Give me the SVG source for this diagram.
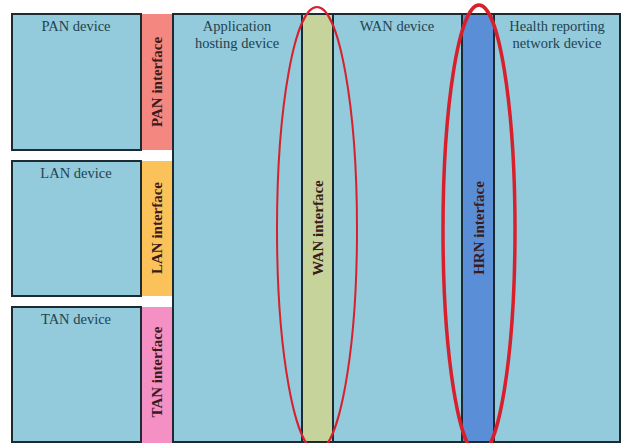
<svg xmlns="http://www.w3.org/2000/svg" width="625" height="443" viewBox="0 0 625 443">
  <style>
    .dev { fill: #93cadc; stroke: #1c2b31; stroke-width: 2; }
    .iface { stroke: none; }
    .bar { stroke: #1c2b31; stroke-width: 2; }
    .lbl { font-family: "Liberation Serif", "DejaVu Serif", serif; font-size: 14.5px; fill: #22434e; text-anchor: middle; }
    .ilbl { font-family: "Liberation Serif", "DejaVu Serif", serif; font-size: 15px; font-weight: bold; fill: #3a1a1a; text-anchor: middle; }
    .ring { fill: none; stroke: #d8202c; }
  </style>
  <rect width="625" height="443" fill="#ffffff"/>

  <!-- left column: device boxes -->
  <g id="pan-device">
    <rect class="dev" x="12" y="14" width="129" height="136"/>
    <text class="lbl" x="76" y="31">PAN device</text>
  </g>
  <g id="lan-device">
    <rect class="dev" x="12" y="161" width="129" height="135"/>
    <text class="lbl" x="76" y="178">LAN device</text>
  </g>
  <g id="tan-device">
    <rect class="dev" x="12" y="307" width="129" height="135"/>
    <text class="lbl" x="76" y="324">TAN device</text>
  </g>

  <!-- local interfaces -->
  <g id="pan-interface">
    <rect class="iface" x="142" y="14" width="30" height="136" fill="#f4877f"/>
    <text class="ilbl" transform="translate(162 82) rotate(-90)">PAN interface</text>
  </g>
  <g id="lan-interface">
    <rect class="iface" x="142" y="161" width="30" height="135" fill="#fcc25a"/>
    <text class="ilbl" transform="translate(162 228) rotate(-90)">LAN interface</text>
  </g>
  <g id="tan-interface">
    <rect class="iface" x="142" y="307" width="30" height="136" fill="#f590c5"/>
    <text class="ilbl" transform="translate(162 372) rotate(-90)">TAN interface</text>
  </g>

  <!-- application hosting device -->
  <g id="app-hosting-device">
    <rect class="dev" x="173" y="14" width="129" height="428"/>
    <text class="lbl" x="237" y="31">Application</text>
    <text class="lbl" x="237" y="48">hosting device</text>
  </g>

  <!-- WAN interface -->
  <g id="wan-interface">
    <rect class="bar" x="302" y="14" width="31" height="428" fill="#c6d49c"/>
    <text class="ilbl" transform="translate(323 228) rotate(-90)">WAN interface</text>
  </g>

  <!-- WAN device -->
  <g id="wan-device">
    <rect class="dev" x="333" y="14" width="129" height="428"/>
    <text class="lbl" x="397" y="31">WAN device</text>
  </g>

  <!-- HRN interface -->
  <g id="hrn-interface">
    <rect class="bar" x="462" y="14" width="32" height="428" fill="#5a8ed6"/>
    <text class="ilbl" transform="translate(484 228) rotate(-90)">HRN interface</text>
  </g>

  <!-- health reporting network device -->
  <g id="hrn-device">
    <rect class="dev" x="494" y="14" width="126" height="428"/>
    <text class="lbl" x="557" y="31">Health reporting</text>
    <text class="lbl" x="557" y="48">network device</text>
  </g>

  <!-- highlight rings -->
  <g id="highlights">
    <ellipse class="ring" cx="317" cy="229" rx="40" ry="222" stroke-width="2"/>
    <ellipse class="ring" cx="479" cy="230" rx="36" ry="225" stroke-width="3.5"/>
  </g>
</svg>
